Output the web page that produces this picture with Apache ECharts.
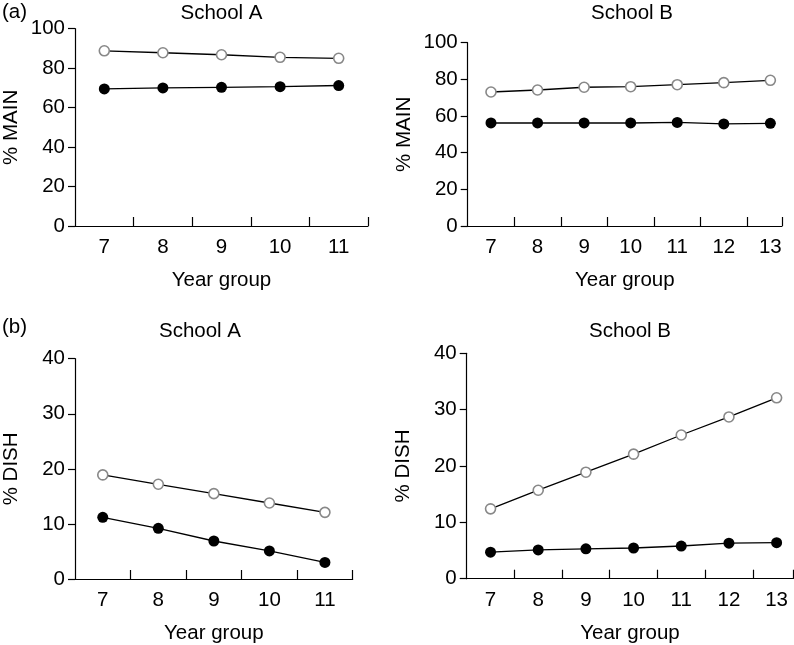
<!DOCTYPE html>
<html><head><meta charset="utf-8">
<script src="https://cdn.jsdelivr.net/npm/echarts@6/dist/echarts.min.js"></script>
<style>html,body{margin:0;padding:0;background:#fff}#c{width:794px;height:645px}</style>
</head><body><div id="c"></div>
<script>
var yearsA = [7, 8, 9, 10, 11];
var yearsB = [7, 8, 9, 10, 11, 12, 13];
var mainA_open = [88.8, 87.8, 86.8, 85.5, 85.0];
var mainA_filled = [69.5, 70.0, 70.3, 70.6, 71.2];
var mainB_open = [73.1, 74.2, 75.7, 76.0, 77.1, 78.2, 79.5];
var mainB_filled = [56.2, 56.2, 56.2, 56.2, 56.5, 55.7, 56.0];
var dishA_open = [18.9, 17.2, 15.5, 13.8, 12.1];
var dishA_filled = [11.2, 9.2, 6.9, 5.1, 3.0];
var dishB_open = [12.4, 15.7, 18.9, 22.1, 25.5, 28.7, 32.1];
var dishB_filled = [4.7, 5.1, 5.3, 5.45, 5.8, 6.3, 6.4];
var mainTicks = [0, 20, 40, 60, 80, 100];
var dishTicks = [0, 10, 20, 30, 40];

var FONT = 'Liberation Sans, Arial, sans-serif';
var FS = 20.5;
function pairs(xs, ys){ return xs.map(function(x,i){ return [x, ys[i]]; }); }
function halfTicks(xs, max){ var t = xs.slice(0, -1).map(function(x){return x + 0.5;}); t.push(max); return t; }
function ttl(text, left, top, align){
  return {text:text, left:left, top:top, padding:0, textAlign:align||'left',
    textStyle:{fontSize:FS, fontWeight:'normal', color:'#000', fontFamily:FONT}};
}

var panels = [
  {grid:{left:73, top:28.7, width:295, height:197.3}, years:yearsA, max:11.5, ymax:100, yint:20, yname:'% MAIN', open:mainA_open, filled:mainA_filled},
  {grid:{left:467.7, top:42.7, width:314.3, height:183.3}, years:yearsB, max:13.25, ymax:100, yint:20, yname:'% MAIN', open:mainB_open, filled:mainB_filled},
  {grid:{left:72.3, top:358.7, width:280.4, height:220.6}, years:yearsA, max:11.5, ymax:40, yint:10, yname:'% DISH', open:dishA_open, filled:dishA_filled},
  {grid:{left:466.7, top:353.3, width:326.6, height:225.4}, years:yearsB, max:13.35, ymax:40, yint:10, yname:'% DISH', open:dishB_open, filled:dishB_filled}
];

var option = {
  backgroundColor: '#fff',
  animation: false,
  textStyle: {fontFamily: FONT},
  title: [
    ttl('(a)', 2, 2),
    ttl('(b)', 2, 317),
    ttl('School A', 221.5, 3, 'center'),
    ttl('School B', 632, 3, 'center'),
    ttl('School A', 200, 321, 'center'),
    ttl('School B', 630, 321, 'center')
  ],
  grid: [], xAxis: [], yAxis: [], series: []
};

panels.forEach(function(p, i){
  option.grid.push(p.grid);
  option.xAxis.push({
    type:'value', gridIndex:i, min:6.5, max:p.max,
    name:'Year group', nameLocation:'middle', nameGap:44,
    nameTextStyle:{fontSize:FS, color:'#000', fontFamily:FONT},
    axisLine:{lineStyle:{color:'#000', width:1.2}},
    axisTick:{inside:true, length:9, lineStyle:{color:'#000', width:1.2}, customValues: halfTicks(p.years, p.max)},
    axisLabel:{fontSize:FS, color:'#000', margin:11, fontFamily:FONT, customValues: p.years},
    splitLine:{show:false}
  });
  option.yAxis.push({
    type:'value', gridIndex:i, min:0, max:p.ymax, interval:p.yint,
    name:p.yname, nameLocation:'middle', nameGap:53, nameRotate:90,
    nameTextStyle:{fontSize:FS, color:'#000', fontFamily:FONT},
    axisLine:{show:true, lineStyle:{color:'#000', width:1.2}},
    axisTick:{show:true, length:7, lineStyle:{color:'#000', width:1.2}},
    axisLabel:{fontSize:FS, color:'#000', margin:10, fontFamily:FONT},
    splitLine:{show:false}
  });
  option.series.push({
    type:'line', xAxisIndex:i, yAxisIndex:i, data:pairs(p.years, p.open),
    symbol:'circle', symbolSize:10,
    lineStyle:{color:'#000', width:1.3},
    itemStyle:{color:'#fff', borderColor:'#888', borderWidth:1.6}
  });
  option.series.push({
    type:'line', xAxisIndex:i, yAxisIndex:i, data:pairs(p.years, p.filled),
    symbol:'circle', symbolSize:11,
    lineStyle:{color:'#000', width:1.3},
    itemStyle:{color:'#000', borderColor:'#000', borderWidth:0}
  });
});

var chart = echarts.init(document.getElementById('c'), null, {renderer:'canvas'});
chart.setOption(option);
</script>
</body></html>
